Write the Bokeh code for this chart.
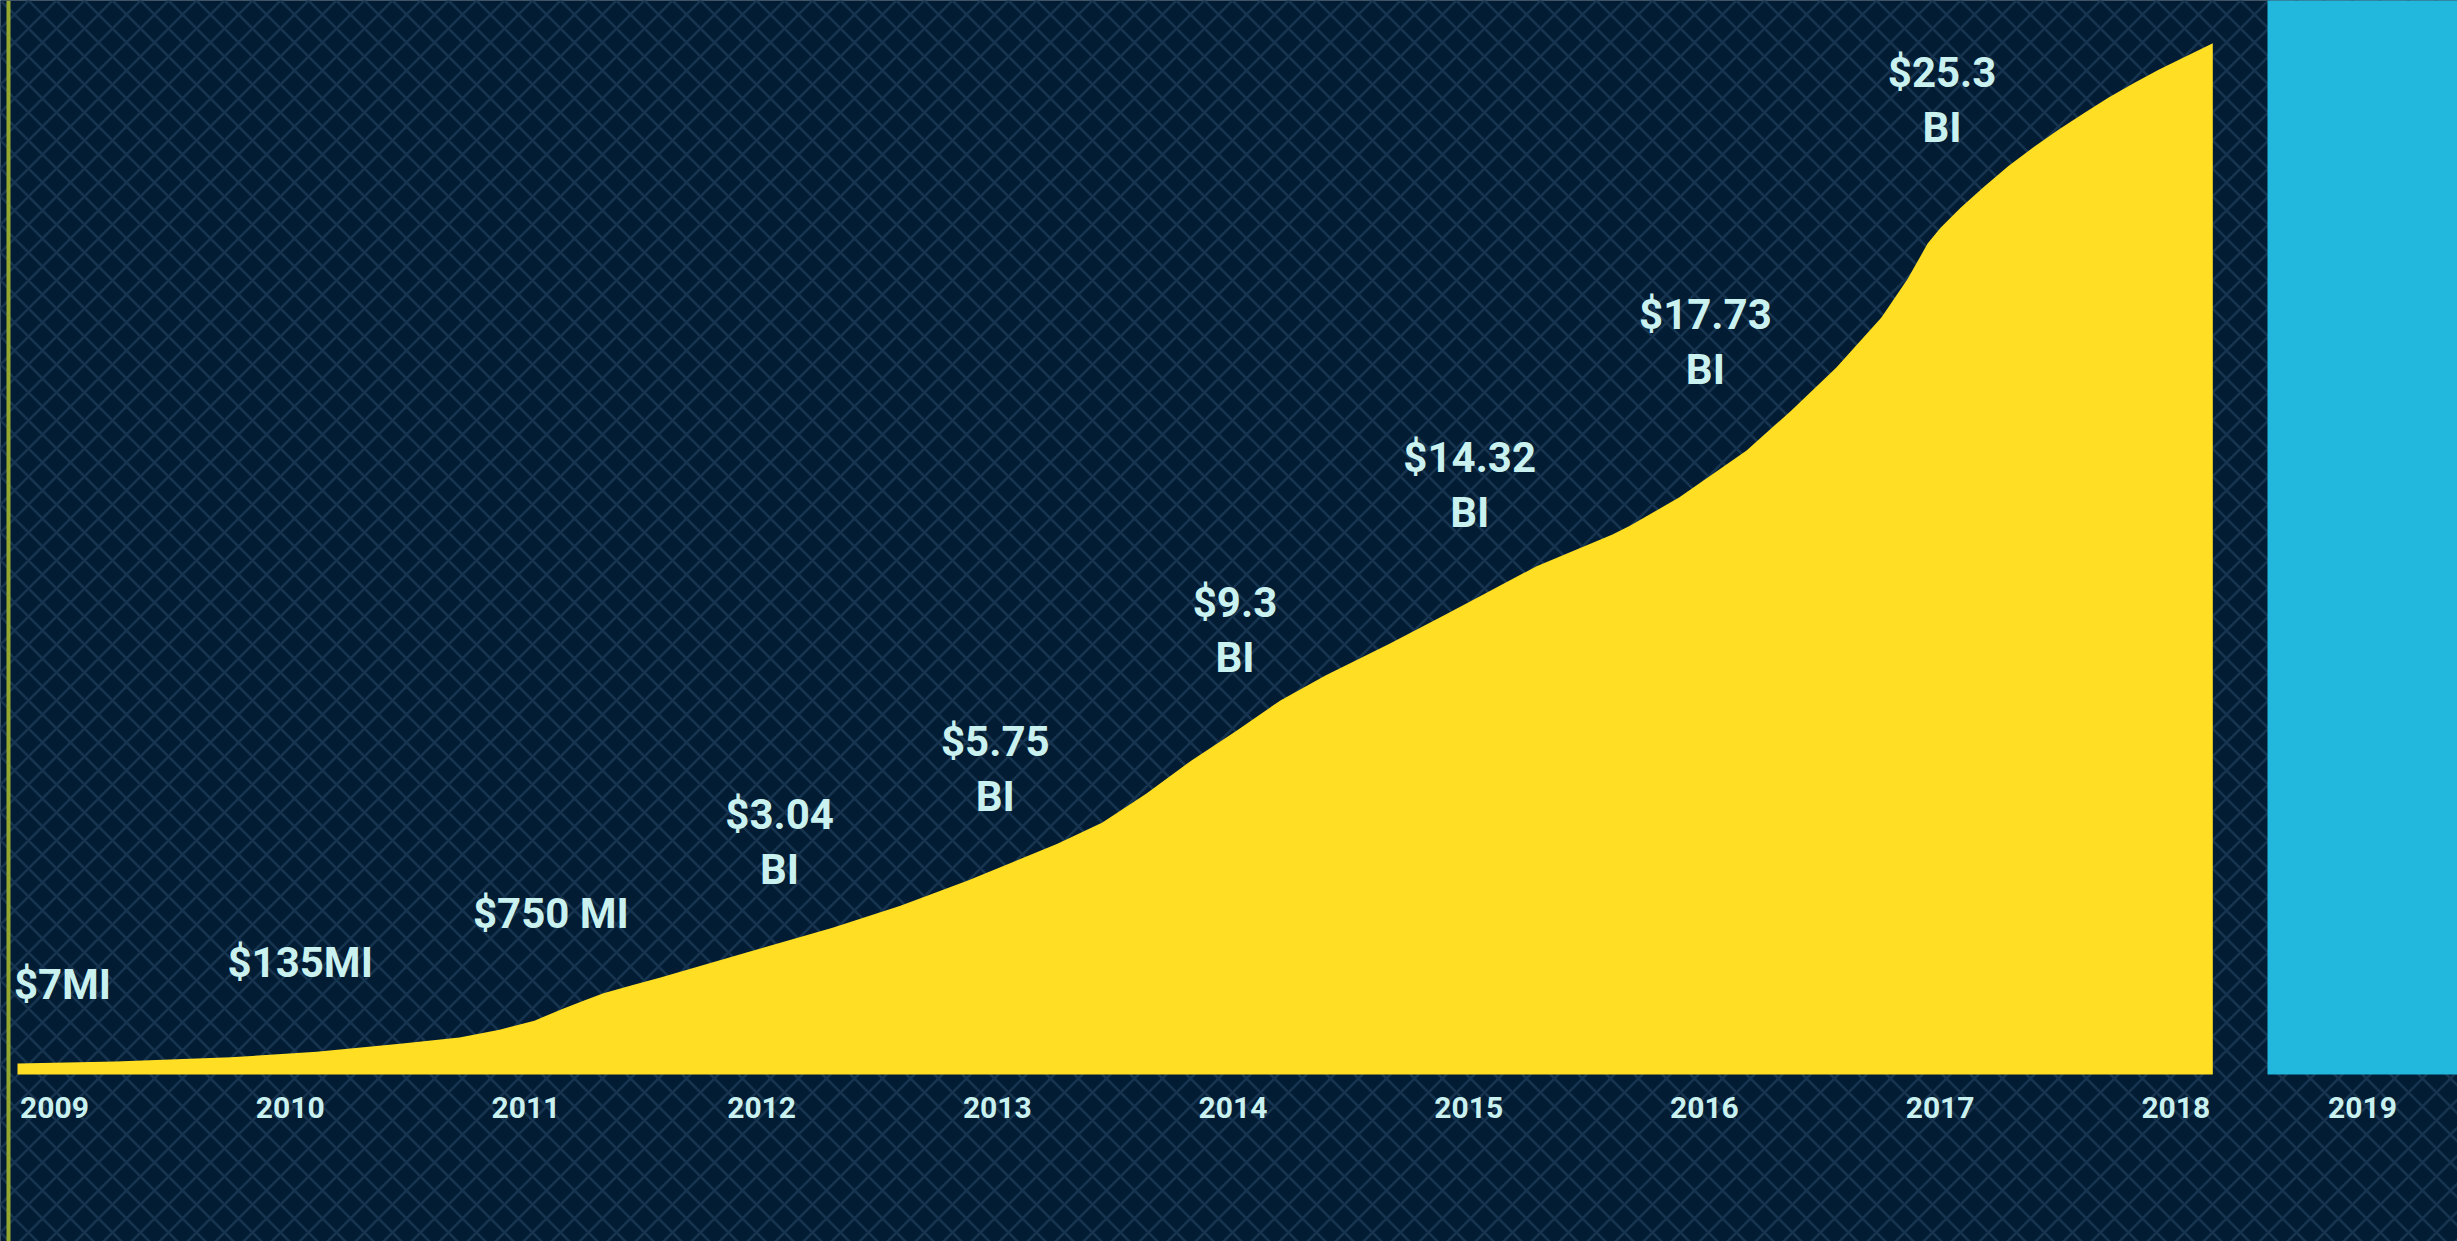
from bokeh.plotting import figure
from bokeh.models import Range1d, Span, ColumnDataSource
from bokeh.core.properties import value
from bokeh.embed import file_html
from bokeh.resources import INLINE

# ---------------- data ----------------
years = [2009, 2010, 2011, 2012, 2013, 2014, 2015, 2016, 2017, 2018, 2019]
year_labels = [str(y) for y in years]

# value labels (first line, second line)
label_years = [2009, 2010, 2011, 2012, 2013, 2014, 2015, 2016, 2017]
amount_text = ["$7MI", "$135MI", "$750 MI", "$3.04", "$5.75", "$9.3", "$14.32", "$17.73", "$25.3"]
unit_text = ["", "", "", "BI", "BI", "BI", "BI", "BI", "BI"]

# shape of the yellow area (x in years, y in US$ billions)
curve_x = [2008.843, 2009.259, 2009.747, 2010.112, 2010.476, 2010.718, 2010.888, 2011.036,
           2011.160, 2011.250, 2011.329, 2011.450, 2011.571, 2011.936, 2012.301, 2012.589,
           2012.878, 2013.255, 2013.446, 2013.633, 2013.824, 2014.015, 2014.201, 2014.392,
           2014.664, 2014.906, 2015.046, 2015.288, 2015.610, 2015.686, 2015.894, 2016.179,
           2016.369, 2016.560, 2016.751, 2016.862, 2016.947, 2017.002, 2017.087, 2017.184,
           2017.290, 2017.396, 2017.502, 2017.608, 2017.715, 2017.821, 2017.927, 2018.033,
           2018.157]
curve_y = [0.27, 0.32, 0.42, 0.56, 0.76, 0.91, 1.10, 1.32,
           1.62, 1.82, 1.99, 2.19, 2.38, 2.99, 3.60, 4.14,
           4.76, 5.66, 6.18, 6.89, 7.70, 8.43, 9.17, 9.78,
           10.56, 11.29, 11.72, 12.46, 13.24, 13.46, 14.15, 15.30,
           16.28, 17.33, 18.56, 19.50, 20.37, 20.76, 21.25, 21.75,
           22.27, 22.73, 23.16, 23.56, 23.95, 24.30, 24.63, 24.93,
           25.28]

# 2019 bar (runs off the top of the picture)
bar_2019_value = 40.0

# ---------------- layout ----------------
W, H = 2457, 1241
PX_PER_YEAR = 235.7
X_2009 = 54.0            # pixel position of 2009
BASE_PX = 1074.0         # baseline pixel from top
PX_PER_BI = 40.79

x_start = 2009 - X_2009 / PX_PER_YEAR
x_end = x_start + W / PX_PER_YEAR
y_end = BASE_PX / PX_PER_BI
y_start = -(H - BASE_PX) / PX_PER_BI

# annotation placement (layout only): baseline heights in billions, pixel nudges
label_base = [1.81, 2.35, 3.55, 5.98, 7.77, 11.18, 14.73, 18.24, 24.17]
label_dx = [8, 10, 25, 18, -2, 2, 1, 1, 2]

BG = "#021c34"
HATCH = "#16344f"
YELLOW = "#ffde24"
BLUE = "#22b8dd"
TEXT = "#c9f1ef"
FONT = value("Roboto")

p = figure(width=W, height=H, output_backend="svg", toolbar_location=None,
           x_range=Range1d(x_start, x_end), y_range=Range1d(y_start, y_end),
           min_border=0, background_fill_color=BG, border_fill_color=BG,
           outline_line_color=None)
p.xaxis.visible = False
p.yaxis.visible = False
p.xgrid.visible = False
p.ygrid.visible = False

# crosshatched background
p.quad(left=[x_start - 1], right=[x_end + 1], bottom=[y_start - 1], top=[y_end + 1],
       fill_color=BG, line_color=None,
       hatch_pattern="diagonal_cross", hatch_color=HATCH, hatch_scale=28, hatch_weight=2.5)

# left olive rule
p.add_layout(Span(location=x_start + 8 / PX_PER_YEAR, dimension="height",
                  line_color="#95a92e", line_width=4))

# yellow area
p.varea(x=curve_x, y1=[0] * len(curve_x), y2=curve_y, fill_color=YELLOW)

# 2019 blue bar
bar_left = x_start + 2267 / PX_PER_YEAR
p.quad(left=[bar_left], right=[x_end + 1], bottom=[0], top=[bar_2019_value],
       fill_color=BLUE, line_color=None)

# value labels
src = ColumnDataSource(dict(x=label_years, y=label_base, a=amount_text, u=unit_text, dx=label_dx))
common = dict(source=src, text_align="center", text_baseline="alphabetic",
              text_font=FONT, text_font_style="bold", text_font_size="42px", text_color=TEXT)
p.text(x="x", y="y", text="a", x_offset="dx", y_offset=-16, **common)
p.text(x="x", y="y", text="u", x_offset="dx", y_offset=39, **common)

# year labels
tick_x = years[:-1] + [(bar_left + x_end) / 2]
p.text(x=tick_x, y=[0] * len(years), text=year_labels, text_align="center",
       text_baseline="alphabetic", y_offset=33, text_font=FONT, text_font_style="bold",
       text_font_size="30px", text_color=TEXT)

open("out.html", "w").write(file_html(p, INLINE))
